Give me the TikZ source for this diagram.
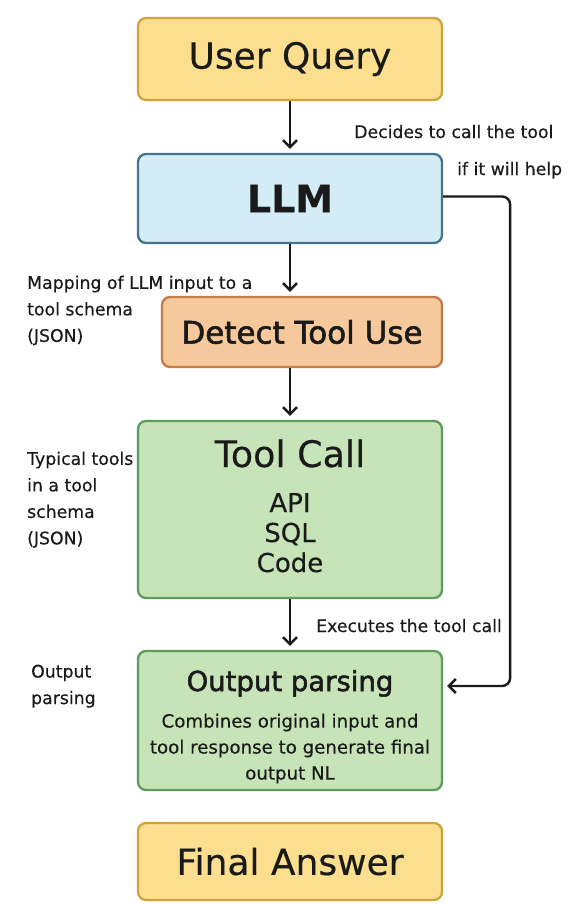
\documentclass[tikz,border=0pt]{standalone}
\usepackage{fontspec}
\setmainfont{DejaVu Sans}[FakeBold=0.35]
\newfontfamily\medfont[FakeBold=1.8]{DejaVu Sans}
\usetikzlibrary{arrows.meta}
\definecolor{txt}{HTML}{1A1A1A}
\definecolor{yfill}{HTML}{FBDF8E}
\definecolor{ydraw}{HTML}{CDA53C}
\definecolor{bfill}{HTML}{D3ECF6}
\definecolor{bdraw}{HTML}{44748A}
\definecolor{ofill}{HTML}{F5C99B}
\definecolor{odraw}{HTML}{C27C47}
\definecolor{gfill}{HTML}{C6E4B7}
\definecolor{gdraw}{HTML}{5E9B5E}
\begin{document}
\begin{tikzpicture}[x=1pt,y=-1pt,
  box/.style={draw, line width=2.3pt, rounded corners=8pt, inner sep=0pt, text=txt},
  ybox/.style={box, fill=yfill, draw=ydraw},
  bbox/.style={box, fill=bfill, draw=bdraw},
  obox/.style={box, fill=ofill, draw=odraw},
  gbox/.style={box, fill=gfill, draw=gdraw},
  side/.style={anchor=base west, inner sep=0pt, text=txt, font=\fontsize{17.3}{26.5}\selectfont},
  arr/.style={draw=txt, line width=2.4pt, -{Straight Barb[length=7pt,width=14pt]}, shorten >=4pt}
]
\fill[white] (0,0) rectangle (576,907);
\useasboundingbox (0,0) rectangle (576,907);

% boxes
\node[ybox, minimum width=304pt, minimum height=82pt, font=\fontsize{36}{40}\selectfont] (uq) at (290,59) {User Query};
\node[bbox, minimum width=304pt, minimum height=89pt, font=\fontsize{38}{44}\selectfont\bfseries] (llm) at (290,198.5) {LLM};
\node[obox, minimum width=280pt, minimum height=70pt, font=\fontsize{31}{34}\medfont] (det) at (302,332) {Detect Tool Use};
\node[gbox, minimum width=304pt, minimum height=177pt] (tc) at (290,509.5) {};
\node[gbox, minimum width=304pt, minimum height=139pt] (op) at (290,720.5) {};
\node[ybox, minimum width=304pt, minimum height=77pt, font=\fontsize{36}{40}\selectfont] (fa) at (290,861.5) {Final Answer};

% Tool Call contents
\node[anchor=base, inner sep=0pt, text=txt, font=\fontsize{36.5}{40}\selectfont] (tct) at (290,467) {Tool Call};
\node[anchor=base, inner sep=0pt, text=txt, font=\fontsize{26}{28}\selectfont] (api) at (290,512) {API};
\node[anchor=base, inner sep=0pt, text=txt, font=\fontsize{26}{28}\selectfont] (sql) at (290,542) {SQL};
\node[anchor=base, inner sep=0pt, text=txt, font=\fontsize{26}{28}\selectfont] (code) at (290,572) {Code};

% Output parsing contents
\node[anchor=base, inner sep=0pt, text=txt, font=\fontsize{27.5}{30}\medfont] (opt) at (290,691) {Output parsing};
\node[anchor=north, inner sep=0pt, text=txt, align=center, font=\fontsize{18.2}{26}\selectfont] (opb) at (290,713.5) {Combines original input and\\tool response to generate final\\output NL};

% side labels
\node[side] (l1) at (354,138) {Decides to call the tool};
\node[side] (l2) at (457,175) {if it will help};
\node[side, align=left, anchor=north west] (l3) at (27,275.5) {Mapping of LLM input to a\\tool schema\\(JSON)};
\node[side, align=left, anchor=north west] (l4) at (27,451.5) {Typical tools\\in a tool\\schema\\(JSON)};
\node[side] (l5) at (316,632) {Executes the tool call};
\node[side, align=left, anchor=north west] (l6) at (31,664.5) {Output\\parsing};

% connectors
\draw[arr] (uq.south) -- (llm.north);
\draw[arr] (llm.south) -- (llm.south |- det.north);
\draw[arr] (det.south -| tc.north) -- (tc.north);
\draw[arr] (tc.south) -- (op.north);
\draw[arr, rounded corners=8pt] ([yshift=2pt]llm.east) -- ++(67,0) |- ([yshift=34.5pt]op.east);
\end{tikzpicture}
\end{document}
